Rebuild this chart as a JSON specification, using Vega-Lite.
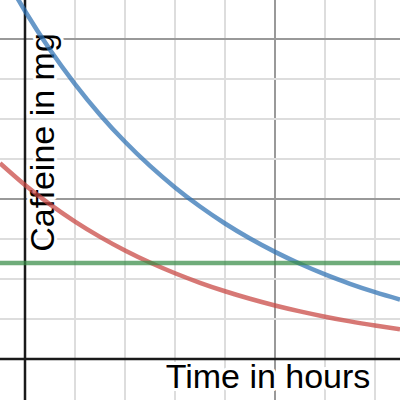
{
  "$schema": "https://vega.github.io/schema/vega-lite/v6.json",
  "width": 400,
  "height": 400,
  "padding": 0,
  "autosize": {"type": "none"},
  "config": {"view": {"stroke": null}, "font": "Liberation Sans"},
  "datasets": {
    "curves": [
      {"t": -0.5, "mg": 489.4, "series": "dose"},
      {"t": 0, "mg": 435.0, "series": "dose"},
      {"t": 0.5, "mg": 386.6, "series": "dose"},
      {"t": 1, "mg": 343.7, "series": "dose"},
      {"t": 1.5, "mg": 305.4, "series": "dose"},
      {"t": 2, "mg": 271.5, "series": "dose"},
      {"t": 2.5, "mg": 241.3, "series": "dose"},
      {"t": 3, "mg": 214.5, "series": "dose"},
      {"t": 3.5, "mg": 190.6, "series": "dose"},
      {"t": 4, "mg": 169.4, "series": "dose"},
      {"t": 4.5, "mg": 150.6, "series": "dose"},
      {"t": 5, "mg": 133.9, "series": "dose"},
      {"t": 5.5, "mg": 119.0, "series": "dose"},
      {"t": 6, "mg": 105.7, "series": "dose"},
      {"t": 6.5, "mg": 94.0, "series": "dose"},
      {"t": 7, "mg": 83.5, "series": "dose"},
      {"t": 7.5, "mg": 74.3, "series": "dose"},
      {"t": -0.5, "mg": 244.7, "series": "half"},
      {"t": 0, "mg": 217.5, "series": "half"},
      {"t": 0.5, "mg": 193.3, "series": "half"},
      {"t": 1, "mg": 171.8, "series": "half"},
      {"t": 1.5, "mg": 152.7, "series": "half"},
      {"t": 2, "mg": 135.7, "series": "half"},
      {"t": 2.5, "mg": 120.6, "series": "half"},
      {"t": 3, "mg": 107.2, "series": "half"},
      {"t": 3.5, "mg": 95.3, "series": "half"},
      {"t": 4, "mg": 84.7, "series": "half"},
      {"t": 4.5, "mg": 75.3, "series": "half"},
      {"t": 5, "mg": 66.9, "series": "half"},
      {"t": 5.5, "mg": 59.5, "series": "half"},
      {"t": 6, "mg": 52.9, "series": "half"},
      {"t": 6.5, "mg": 47.0, "series": "half"},
      {"t": 7, "mg": 41.8, "series": "half"},
      {"t": 7.5, "mg": 37.1, "series": "half"}
    ],
    "threshold": [
      {"t": -0.5, "mg": 120},
      {"t": 7.5, "mg": 120}
    ],
    "one": [{}]
  },
  "resolve": {"axis": {"x": "independent", "y": "independent"}},
  "layer": [
    {
      "data": {"name": "threshold"},
      "mark": {"type": "line", "opacity": 0},
      "encoding": {
        "x": {"field": "t", "type": "quantitative", "scale": {"domain": [-0.5, 7.5], "nice": false, "zero": false},
          "axis": {"values": [1, 2, 3, 4, 6, 7], "grid": true, "gridColor": "#dddddd", "gridWidth": 2, "translate": 0, "domain": false, "ticks": false, "labels": false, "title": null}},
        "y": {"field": "mg", "type": "quantitative", "scale": {"domain": [-51.25, 448.75], "nice": false, "zero": false},
          "axis": {"values": [50, 100, 150, 250, 300, 350], "grid": true, "gridColor": "#dddddd", "gridWidth": 2, "translate": 0, "domain": false, "ticks": false, "labels": false, "title": null}}
      }
    },
    {
      "data": {"name": "threshold"},
      "mark": {"type": "line", "opacity": 0},
      "encoding": {
        "x": {"field": "t", "type": "quantitative", "scale": {"domain": [-0.5, 7.5], "nice": false, "zero": false},
          "axis": {"values": [5], "grid": true, "gridColor": "#999999", "gridWidth": 2, "translate": 0, "domain": false, "ticks": false, "labels": false, "title": null}},
        "y": {"field": "mg", "type": "quantitative", "scale": {"domain": [-51.25, 448.75], "nice": false, "zero": false},
          "axis": {"values": [200, 400], "grid": true, "gridColor": "#999999", "gridWidth": 2, "translate": 0, "domain": false, "ticks": false, "labels": false, "title": null}}
      }
    },
    {
      "data": {"name": "one"},
      "mark": {"type": "rule", "color": "#1a1a1a", "strokeWidth": 2.5},
      "encoding": {
        "x": {"datum": 0, "type": "quantitative", "scale": {"domain": [-0.5, 7.5], "nice": false, "zero": false}, "axis": null}
      }
    },
    {
      "data": {"name": "one"},
      "mark": {"type": "rule", "color": "#1a1a1a", "strokeWidth": 2.5},
      "encoding": {
        "y": {"datum": 0, "type": "quantitative", "scale": {"domain": [-51.25, 448.75], "nice": false, "zero": false}, "axis": null}
      }
    },
    {
      "data": {"name": "one"},
      "mark": {"type": "text", "fontSize": 34, "font": "Liberation Sans", "align": "center", "baseline": "alphabetic", "stroke": "white", "strokeWidth": 6, "strokeJoin": "round", "fill": "white"},
      "encoding": {
        "x": {"datum": 4.86, "type": "quantitative", "scale": {"domain": [-0.5, 7.5], "nice": false, "zero": false}, "axis": null},
        "y": {"datum": -36.25, "type": "quantitative", "scale": {"domain": [-51.25, 448.75], "nice": false, "zero": false}, "axis": null},
        "text": {"value": "Time in hours"}
      }
    },
    {
      "data": {"name": "one"},
      "mark": {"type": "text", "fontSize": 34, "font": "Liberation Sans", "align": "center", "baseline": "alphabetic", "fill": "black"},
      "encoding": {
        "x": {"datum": 4.86, "type": "quantitative", "scale": {"domain": [-0.5, 7.5], "nice": false, "zero": false}, "axis": null},
        "y": {"datum": -36.25, "type": "quantitative", "scale": {"domain": [-51.25, 448.75], "nice": false, "zero": false}, "axis": null},
        "text": {"value": "Time in hours"}
      }
    },
    {
      "data": {"name": "one"},
      "mark": {"type": "text", "fontSize": 34, "font": "Liberation Sans", "angle": 270, "align": "center", "baseline": "alphabetic", "stroke": "white", "strokeWidth": 6, "strokeJoin": "round", "fill": "white"},
      "encoding": {
        "x": {"datum": 0.57, "type": "quantitative", "scale": {"domain": [-0.5, 7.5], "nice": false, "zero": false}, "axis": null},
        "y": {"datum": 270.6, "type": "quantitative", "scale": {"domain": [-51.25, 448.75], "nice": false, "zero": false}, "axis": null},
        "text": {"value": "Caffeine in mg"}
      }
    },
    {
      "data": {"name": "one"},
      "mark": {"type": "text", "fontSize": 34, "font": "Liberation Sans", "angle": 270, "align": "center", "baseline": "alphabetic", "fill": "black"},
      "encoding": {
        "x": {"datum": 0.57, "type": "quantitative", "scale": {"domain": [-0.5, 7.5], "nice": false, "zero": false}, "axis": null},
        "y": {"datum": 270.6, "type": "quantitative", "scale": {"domain": [-51.25, 448.75], "nice": false, "zero": false}, "axis": null},
        "text": {"value": "Caffeine in mg"}
      }
    },
    {
      "data": {"name": "curves"},
      "mark": {"type": "line", "strokeWidth": 4.5, "opacity": 0.72, "clip": true, "interpolate": "monotone"},
      "encoding": {
        "x": {"field": "t", "type": "quantitative", "scale": {"domain": [-0.5, 7.5], "nice": false, "zero": false}, "axis": null},
        "y": {"field": "mg", "type": "quantitative", "scale": {"domain": [-51.25, 448.75], "nice": false, "zero": false}, "axis": null},
        "color": {"field": "series", "type": "nominal", "scale": {"domain": ["dose", "half"], "range": ["#2d70b3", "#c74440"]}, "legend": null}
      }
    },
    {
      "data": {"name": "threshold"},
      "mark": {"type": "line", "strokeWidth": 4.5, "opacity": 0.72, "color": "#388c46", "clip": true},
      "encoding": {
        "x": {"field": "t", "type": "quantitative", "scale": {"domain": [-0.5, 7.5], "nice": false, "zero": false}, "axis": null},
        "y": {"field": "mg", "type": "quantitative", "scale": {"domain": [-51.25, 448.75], "nice": false, "zero": false}, "axis": null}
      }
    }
  ]
}
